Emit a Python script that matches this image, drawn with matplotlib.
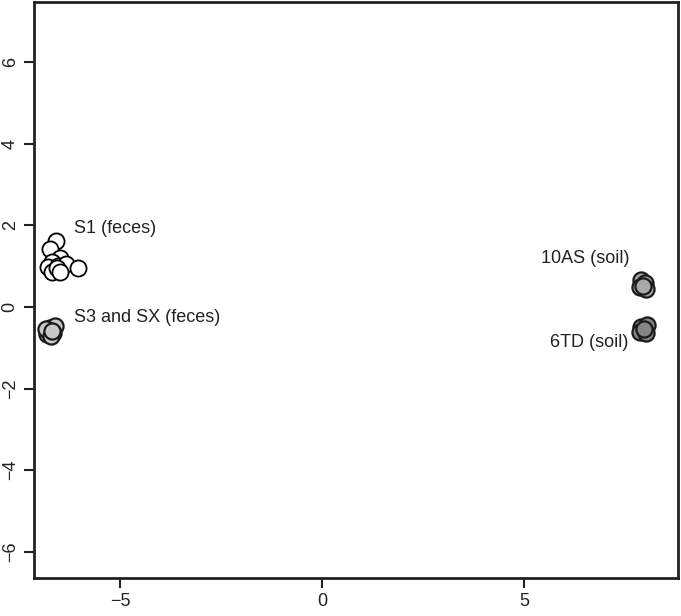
# PCA-style scatter of sample clusters (feces vs soil)
import matplotlib.pyplot as plt

plt.rcParams['font.family'] = ['Liberation Sans', 'DejaVu Sans']

# S1 (feces) - white circles
s1_x = [-6.59, -6.73, -6.49, -6.68, -6.78, -6.54, -6.34, -6.04, -6.61, -6.68, -6.56, -6.49]
s1_y = [1.62, 1.42, 1.20, 1.10, 0.98, 1.00, 1.05, 0.96, 0.91, 0.86, 0.96, 0.86]

# S3 and SX (feces) - light grey
s3_x = [-6.81, -6.73, -6.61, -6.66, -6.83, -6.71, -6.68]
s3_y = [-0.66, -0.51, -0.47, -0.64, -0.54, -0.71, -0.59]

# 10AS (soil)
as_x = [7.90, 8.00, 7.87, 8.02, 7.95]
as_y = [0.66, 0.59, 0.49, 0.44, 0.51]

# 6TD (soil)
td_x = [7.90, 8.05, 7.87, 8.02, 7.97]
td_y = [-0.49, -0.44, -0.61, -0.64, -0.54]

labels = ['S1 (feces)', 'S3 and SX (feces)', '10AS (soil)', '6TD (soil)']

fig = plt.figure(figsize=(6.81, 6.16), dpi=100)
ax = fig.add_axes([0.0499, 0.0617, 0.9457, 0.9351])

ms = 135
ax.scatter(s1_x, s1_y, s=ms, facecolor='white', edgecolor='black', linewidth=1.3, zorder=3)
ax.scatter(s3_x, s3_y, s=ms, facecolor='#c8c8c8', edgecolor='#1a1a1a', linewidth=1.6, zorder=3)
ax.scatter(as_x, as_y, s=ms, facecolor='#a8a8a8', edgecolor='#1a1a1a', linewidth=1.6, zorder=3)
ax.scatter(td_x, td_y, s=ms, facecolor='#858585', edgecolor='#1a1a1a', linewidth=1.6, zorder=3)

fs = 13
ax.text(-6.14, 1.91, labels[0], fontsize=fs, ha='left', va='center', color='#222222')
ax.text(-6.14, -0.25, labels[1], fontsize=fs, ha='left', va='center', color='#222222')
ax.text(7.62, 1.18, labels[2], fontsize=fs, ha='right', va='center', color='#222222')
ax.text(7.57, -0.88, labels[3], fontsize=fs, ha='right', va='center', color='#222222')

ax.set_xlim(-7.13, 8.81)
ax.set_ylim(-6.64, 7.47)
ax.set_xticks([-5, 0, 5])
ax.set_xticklabels(['\u22125', '0', '5'])
ax.set_yticks([-6, -4, -2, 0, 2, 4, 6])
ax.set_yticklabels(['\u22126', '\u22124', '\u22122', '0', '2', '4', '6'], rotation=90, va='center')

for s in ax.spines.values():
    s.set_linewidth(2)
    s.set_color('#222222')
ax.tick_params(direction='out', length=7, width=1.5, labelsize=fs, colors='#222222', pad=4)

plt.savefig('out.png', dpi=100)
